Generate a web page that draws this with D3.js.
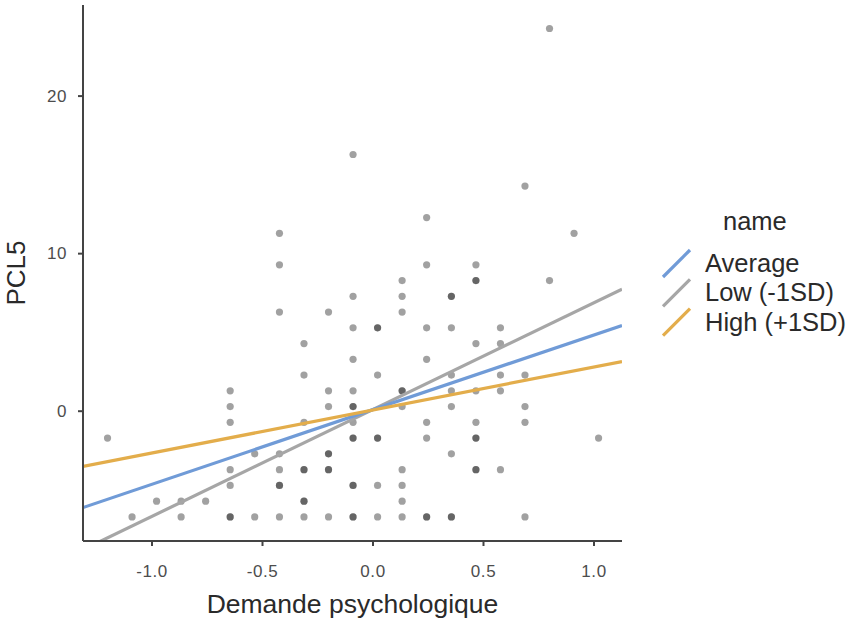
<!DOCTYPE html>
<html lang="en">
	<head>
		<meta charset="utf-8">
		<title>PCL5 vs Demande psychologique</title>
		<script type="text/javascript" src="https://d3js.org/d3.v7.min.js"></script>
		<style type="text/css">
			body {
				margin: 0;
				background-color: white;
				font-family: "Liberation Sans", Arial, sans-serif;
			}
			svg {
				display: block;
			}
		</style>
	</head>
	<body>
		<script type="text/javascript">
			// observed points (overlapping points are listed twice)
			var pointX = [
				-1.199,
				-1.088,
				-0.977,
				-0.866, -0.866,
				-0.755,
				-0.644, -0.644, -0.644, -0.644, -0.644, -0.644, -0.644,
				-0.533, -0.533,
				-0.421, -0.421, -0.421, -0.421, -0.421, -0.421, -0.421, -0.421,
				-0.310, -0.310, -0.310, -0.310, -0.310, -0.310, -0.310, -0.310,
				-0.199, -0.199, -0.199, -0.199, -0.199, -0.199, -0.199, -0.199,
				-0.088, -0.088, -0.088, -0.088, -0.088, -0.088, -0.088, -0.088, -0.088, -0.088, -0.088, -0.088, -0.088, -0.088,
				0.023, 0.023, 0.023, 0.023, 0.023, 0.023, 0.023,
				0.134, 0.134, 0.134, 0.134, 0.134, 0.134, 0.134, 0.134, 0.134, 0.134,
				0.245, 0.245, 0.245, 0.245, 0.245, 0.245, 0.245, 0.245,
				0.357, 0.357, 0.357, 0.357, 0.357, 0.357, 0.357, 0.357, 0.357,
				0.468, 0.468, 0.468, 0.468, 0.468, 0.468, 0.468, 0.468, 0.468, 0.468,
				0.579, 0.579, 0.579, 0.579, 0.579,
				0.690, 0.690, 0.690, 0.690, 0.690,
				0.801, 0.801,
				0.912,
				1.023
			];
			var pointY = [
				-1.74,
				-6.74,
				-5.74,
				-5.74, -6.74,
				-5.74,
				1.26, 0.26, -0.74, -3.74, -4.74, -6.74, -6.74,
				-2.74, -6.74,
				11.26, 9.26, 6.26, -2.74, -3.74, -4.74, -4.74, -6.74,
				4.26, 2.26, -0.74, -3.74, -3.74, -5.74, -5.74, -6.74,
				6.26, 1.26, 0.26, -2.74, -2.74, -3.74, -3.74, -6.74,
				16.26, 7.26, 5.26, 3.26, 1.26, 0.26, 0.26, -0.74, -1.74, -1.74, -4.74, -4.74, -6.74, -6.74,
				5.26, 5.26, 2.26, -1.74, -1.74, -4.74, -6.74,
				8.26, 7.26, 6.26, 1.26, 1.26, 0.26, -3.74, -4.74, -5.74, -6.74,
				12.26, 9.26, 5.26, 3.26, -0.74, -1.74, -6.74, -6.74,
				7.26, 7.26, 5.26, 2.26, 1.26, 0.26, -2.74, -6.74, -6.74,
				9.26, 8.26, 8.26, 4.26, 1.26, -0.74, -1.74, -1.74, -3.74, -3.74,
				5.26, 4.26, 2.26, 1.26, -3.74,
				14.26, 2.26, 0.26, -0.74, -6.74,
				24.26, 8.26,
				11.26,
				-1.74
			];

			// simple slopes
			var lineNames = ["Average", "Low (-1SD)", "High (+1SD)"];
			var lineSlopes = [4.74, 6.78, 2.73];
			var lineIntercepts = [0.06, 0.06, 0.04];
			var lineColors = ["#709bd7", "#a6a6a6", "#e3ad4b"];
			// order lines are drawn in (last on top)
			var drawOrder = [1, 0, 2];

			var xTicks = [-1.0, -0.5, 0.0, 0.5, 1.0];
			var yTicks = [0, 10, 20];

			var w = 849;
			var h = 622;
			var pLeft = 83, pRight = 622, pTop = 5, pBottom = 541;

			var svg = d3.select("body")
					.append("svg")
					.attr("width", w)
					.attr("height", h);

			var x = d3.scaleLinear()
					.domain([-1.31, 1.129])
					.range([pLeft, pRight]);
			var y = d3.scaleLinear()
					.domain([-8.27, 25.75])
					.range([pBottom, pTop]);

			svg.append("clipPath")
				.attr("id", "panel")
				.append("rect")
				.attr("x", pLeft)
				.attr("y", pTop)
				.attr("width", pRight - pLeft)
				.attr("height", pBottom - pTop);

			var panel = svg.append("g").attr("clip-path", "url(#panel)");

			//points
			panel.selectAll("circle")
				.data(pointX)
				.enter()
				.append("circle")
				.attr("cx", function(d) { return x(d); })
				.attr("cy", function(d, i) { return y(pointY[i]); })
				.attr("r", 3.6)
				.attr("fill", "black")
				.attr("fill-opacity", 0.37);

			//regression lines, across the whole panel
			var xd = x.domain();
			panel.selectAll("line.fit")
				.data(drawOrder)
				.enter()
				.append("line")
				.attr("class", "fit")
				.attr("x1", x(xd[0]))
				.attr("x2", x(xd[1]))
				.attr("y1", function(i) { return y(lineIntercepts[i] + lineSlopes[i] * xd[0]); })
				.attr("y2", function(i) { return y(lineIntercepts[i] + lineSlopes[i] * xd[1]); })
				.attr("stroke", function(i) { return lineColors[i]; })
				.attr("stroke-width", 3.2);

			//axes
			var fmt = d3.format(".1f");
			var xAxis = d3.axisBottom(x)
				.tickValues(xTicks)
				.tickFormat(function(d) { return fmt(d).replace("\u2212", "-"); })
				.tickSize(5)
				.tickPadding(19);
			var yAxis = d3.axisLeft(y)
				.tickValues(yTicks)
				.tickSize(5)
				.tickPadding(11);

			var gx = svg.append("g")
				.attr("transform", "translate(0," + pBottom + ")")
				.call(xAxis);
			var gy = svg.append("g")
				.attr("transform", "translate(" + pLeft + ",0)")
				.call(yAxis);

			[gx, gy].forEach(function(g) {
				g.select(".domain")
					.attr("d", g === gx
						? "M" + pLeft + ",0H" + pRight
						: "M0," + pTop + "V" + pBottom)
					.attr("stroke", "#444")
					.attr("stroke-width", 2);
				g.selectAll(".tick line")
					.attr("stroke", "#444")
					.attr("stroke-width", 2);
				g.selectAll(".tick text")
					.attr("fill", "#4d4d4d")
					.style("font-size", "17px")
					.style("letter-spacing", "0.6px")
					.style("font-family", "'Liberation Sans', Arial, sans-serif");
			});

			//axis titles
			svg.append("text")
				.attr("x", (pLeft + pRight) / 2)
				.attr("y", 613)
				.attr("text-anchor", "middle")
				.attr("fill", "#2a2a2a")
				.style("font-size", "26.5px")
				.text("Demande psychologique");

			svg.append("text")
				.attr("transform", "translate(25," + ((pTop + pBottom) / 2) + ") rotate(-90)")
				.attr("text-anchor", "middle")
				.attr("fill", "#2a2a2a")
				.style("font-size", "26px")
				.text("PCL5");

			//legend
			var legend = svg.append("g")
				.attr("transform", "translate(662,248)");

			svg.append("text")
				.attr("x", 723)
				.attr("y", 230)
				.attr("fill", "#2a2a2a")
				.style("font-size", "25.5px")
				.text("name");

			var items = legend.selectAll("g")
				.data(lineNames)
				.enter()
				.append("g")
				.attr("transform", function(d, i) { return "translate(0," + (i * 29.3) + ")"; });

			items.append("line")
				.attr("x1", 1)
				.attr("y1", 29)
				.attr("x2", 28)
				.attr("y2", 2)
				.attr("stroke", function(d, i) { return lineColors[i]; })
				.attr("stroke-width", 3.2);

			items.append("text")
				.attr("x", 43)
				.attr("y", 24)
				.attr("fill", "#2a2a2a")
				.style("font-size", "25.5px")
				.text(function(d) { return d; });
		</script>
	</body>
</html>
